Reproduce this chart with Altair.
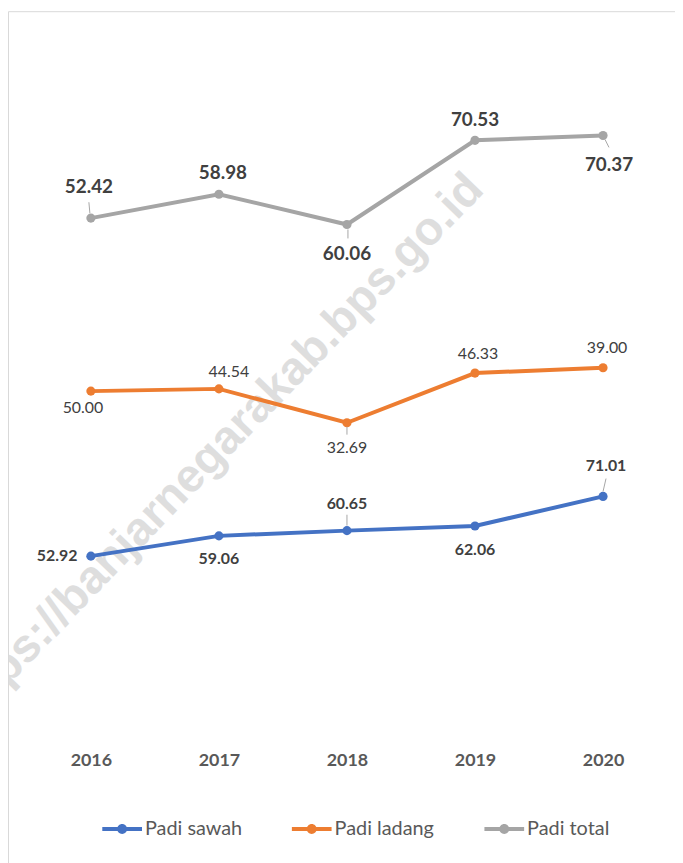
import altair as alt
import pandas as pd

years = ["2016", "2017", "2018", "2019", "2020"]
series_names = ["Padi sawah", "Padi ladang", "Padi total"]
padi_sawah = [52.92, 59.06, 60.65, 62.06, 71.01]
padi_ladang = [50.00, 44.54, 32.69, 46.33, 39.00]
padi_total = [52.42, 58.98, 60.06, 70.53, 70.37]
colors = ["#4472C4", "#ED7D31", "#A5A5A5"]
watermark = "https://banjarnegarakab.bps.go.id"

rows = []
for s, vals in zip(series_names, [padi_sawah, padi_ladang, padi_total]):
    for y, v in zip(years, vals):
        rows.append({"year": y, "series": s, "value": v})
df = pd.DataFrame(rows)
df["order"] = df["series"].map({s: i for i, s in enumerate(series_names)})
df = df.sort_values(["year", "order"]).reset_index(drop=True)
df["top"] = df.groupby("year")["value"].cumsum()
df["label"] = df["value"].map(lambda v: f"{v:.2f}")

# label placement (dx, dy) relative to point, and optional leader line
placements = {
    ("Padi total", "2016"): (-2, -31, (-2, -16, -1, -5)),
    ("Padi total", "2017"): (4, -21, None),
    ("Padi total", "2018"): (0, 30, (1, 5, 1, 14)),
    ("Padi total", "2019"): (0, -20, None),
    ("Padi total", "2020"): (6, 30, (2, 4, 6, 12)),
    ("Padi ladang", "2016"): (-8, 17, None),
    ("Padi ladang", "2017"): (10, -17, None),
    ("Padi ladang", "2018"): (0, 25, (0, 4, 0, 12)),
    ("Padi ladang", "2019"): (3, -19, None),
    ("Padi ladang", "2020"): (4, -20, None),
    ("Padi sawah", "2016"): (-34, 0, None),
    ("Padi sawah", "2017"): (0, 23, None),
    ("Padi sawah", "2018"): (0, -27, (0, -16, 0, -5)),
    ("Padi sawah", "2019"): (0, 24, None),
    ("Padi sawah", "2020"): (3, -31, (3, -18, 0, -5)),
}
label_style = {
    "Padi total": dict(fontSize=19, fontWeight="bold"),
    "Padi ladang": dict(fontSize=16, fontWeight="normal"),
    "Padi sawah": dict(fontSize=16, fontWeight="bold"),
}

FONT = "Lato"

x_enc = alt.X(
    "year:O",
    scale=alt.Scale(type="point", padding=0.5),
    axis=alt.Axis(
        title=None, labelAngle=0, domain=False, ticks=False, grid=False,
        labelFont=FONT, labelFontWeight="bold", labelFontSize=18,
        labelColor="#595959", labelPadding=21,
    ),
)
y_enc = alt.Y("top:Q", scale=alt.Scale(domain=[0, 200]), axis=None)
color_scale = alt.Scale(domain=series_names, range=colors)

legend_path = ("M-1,-0.1L1,-0.1L1,0.1L-1,0.1Z "
               "M0.25,0A0.25,0.25,0,1,1,-0.25,0A0.25,0.25,0,1,1,0.25,0Z")
legend = alt.Legend(
    title=None, orient="none", direction="horizontal",
    legendX=76, legendY=744, padding=0,
    symbolType=legend_path, symbolSize=1600, symbolStrokeWidth=0,
    labelFont=FONT, labelFontSize=20, labelColor="#595959",
    labelOffset=3, columnPadding=50,
)
color_enc = alt.Color("series:N", scale=color_scale, sort=series_names, legend=legend)

base = alt.Chart(df)

wm = alt.Chart(pd.DataFrame({"t": [watermark]})).mark_text(
    font="Liberation Sans", fontWeight="bold", fontSize=47, color="#d9d9d9",
    angle=314, align="center", baseline="middle", opacity=0.85,
).encode(text="t:N", x=alt.value(190), y=alt.value(383))

border = alt.Chart(pd.DataFrame({"a": [0]})).mark_rule(color="#d9d9d9", strokeWidth=1).encode(
    x=alt.value(-18.5), y=alt.value(-59.5), y2=alt.value(800)
)
border_top = alt.Chart(pd.DataFrame({"a": [0]})).mark_rule(color="#d9d9d9", strokeWidth=1).encode(
    x=alt.value(-18.5), x2=alt.value(660), y=alt.value(-59.5)
)

lines = base.mark_line(strokeWidth=4).encode(
    x=x_enc, y=y_enc, color=color_enc, detail="series:N",
)
points = base.mark_circle(size=85, opacity=1).encode(
    x=x_enc, y=y_enc, color=color_enc,
)

layers = [border, border_top, wm, lines, points]
for (s, yr), (dx, dy, leader) in placements.items():
    sub = base.transform_filter(
        (alt.datum.series == s) & (alt.datum.year == yr)
    )
    if leader is not None:
        x1, y1, x2, y2 = leader
        layers.append(
            sub.mark_rule(color="#a6a6a6", strokeWidth=1,
                          xOffset=x1, yOffset=y1, x2Offset=x2, y2Offset=y2).encode(
                x=x_enc, x2=alt.X2("year:O"), y=y_enc, y2=alt.Y2("top:Q")
            )
        )
    layers.append(
        sub.mark_text(font=FONT, color="#404040", align="center", baseline="middle",
                      dx=dx, dy=dy, **label_style[s]).encode(
            x=x_enc, y=y_enc, text="label:N"
        )
    )

chart = alt.layer(*layers).properties(
    width=645, height=665,
    padding={"left": 19, "top": 60, "right": 8, "bottom": 130},
    autosize=alt.AutoSizeParams(type="none"),
    background="white",
).configure_view(stroke=None)

chart.save("out.html", embed_options={"renderer": "svg", "actions": False})
